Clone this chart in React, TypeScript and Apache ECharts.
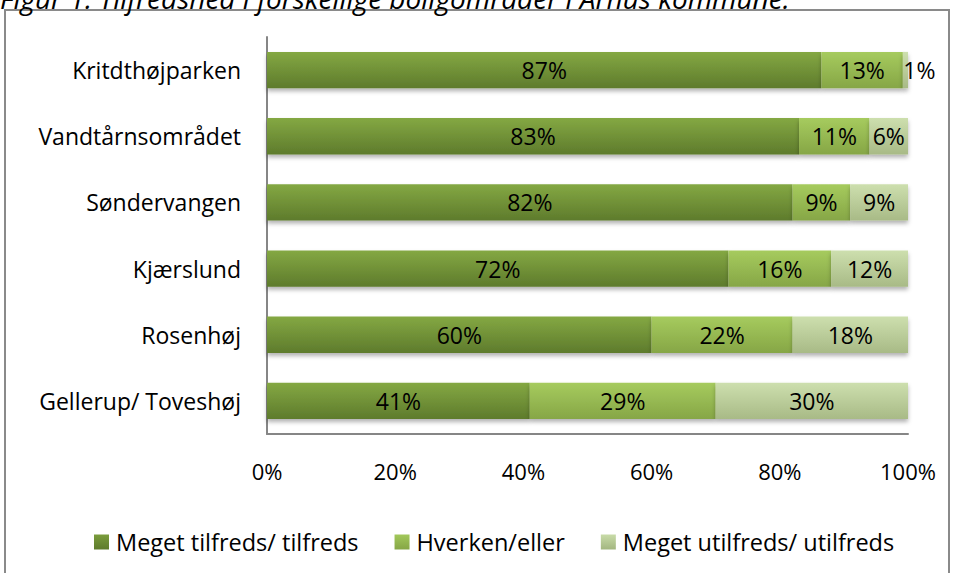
import React, { useEffect, useRef } from "react";
import * as echarts from "echarts";

const categories = ["Kritdthøjparken", "Vandtårnsområdet", "Søndervangen", "Kjærslund", "Rosenhøj", "Gellerup/ Toveshøj"];
const seriesNames = ["Meget tilfreds/ tilfreds", "Hverken/eller", "Meget utilfreds/ utilfreds"];
const satisfied = [86.5, 83, 82, 72, 60, 41];
const neither = [12.7, 11, 9, 16, 22, 29];
const dissatisfied = [0.8, 6, 9, 12, 18, 30];
const xTicks = [0, 20, 40, 60, 80, 100];
const titleText = "Figur 1: Tilfredshed i forskellige boligområder i Århus kommune.";

const FONT = "'Open Sans', 'Noto Sans', sans-serif";

function grad(top: string, bottom: string) {
  return new echarts.graphic.LinearGradient(0, 0, 0, 1, [
    { offset: 0, color: top },
    { offset: 1, color: bottom },
  ]);
}

export default function App() {
  const ref = useRef<HTMLDivElement>(null);
  useEffect(() => {
    if (!ref.current) return;
    const chart = echarts.init(ref.current, null, { renderer: "svg" });
    const colors = [
      grad("#84a843", "#5e7b2c"),
      grad("#a6cb5e", "#86a646"),
      grad("#cddfae", "#a8ba86"),
    ];
    const legendColors = [
      grad("#7a9c3c", "#5e7b2c"),
      grad("#a2c85a", "#86a646"),
      grad("#c8dba8", "#a3b680"),
    ];
    const rev = (a: number[]) => a.slice().reverse();
    const cats = rev(categories);
    const dataSets = [rev(satisfied), rev(neither), rev(dissatisfied)];
    const mkSeries = (i: number) => ({
      name: seriesNames[i],
      type: "bar",
      stack: "total",
      barCategoryGap: "45%",
      itemStyle: {
        color: colors[i],
        shadowBlur: 4,
        shadowOffsetY: 3,
        shadowColor: "rgba(0,0,0,0.3)",
      },
      label: {
        show: true,
        position: "inside",
        fontFamily: FONT,
        fontSize: 23,
        color: "#000",
        formatter: (p: any) => Math.round(p.value) + "%",
      },
      data: dataSets[i].map((v, j) =>
        i === 2 && j === cats.length - 1
          ? { value: v, label: { offset: [14, 0] } }
          : v
      ),
    });
    chart.setOption({
      animation: false,
      grid: { left: 267, right: 45, top: 37, bottom: 139, containLabel: false },
      legend: {
        bottom: 14,
        left: 89,
        itemWidth: 15,
        itemHeight: 15,
        itemGap: 36,
        icon: "rect",
        textStyle: { fontFamily: FONT, fontSize: 23.5, color: "#000", padding: [0, 0, 0, 2] },
        data: seriesNames.map((n, i) => ({ name: n, itemStyle: { color: legendColors[i] } })),
      },
      xAxis: {
        type: "value",
        min: 0,
        max: 100,
        interval: 20,
        axisLine: { show: true, lineStyle: { color: "#868686", width: 2 } },
        axisTick: { show: false },
        splitLine: { show: false },
        axisLabel: {
          margin: 26,
          fontFamily: FONT,
          fontSize: 22,
          color: "#000",
          formatter: (v: number) => (xTicks.includes(v) ? v + "%" : ""),
        },
      },
      yAxis: {
        type: "category",
        data: cats,
        axisLine: { show: true, lineStyle: { color: "#868686", width: 2 } },
        axisTick: { show: false },
        axisLabel: { margin: 26, fontFamily: FONT, fontSize: 23, color: "#000" },
      },
      graphic: [
        {
          type: "rect",
          shape: { x: 5, y: 10, width: 944, height: 600 },
          style: { fill: "none", stroke: "#8a8a8a", lineWidth: 2 },
          z: -1,
        },
        {
          type: "text",
          x: 0,
          y: 12,
          style: {
            text: titleText,
            fontFamily: FONT,
            fontSize: 28,
            fontStyle: "italic",
            fill: "#000",
            textVerticalAlign: "bottom",
          },
        },
      ],
      series: [mkSeries(0), mkSeries(1), mkSeries(2)],
    });
    return () => chart.dispose();
  }, []);
  return (
    <div
      ref={ref}
      style={{ position: "absolute", left: 0, top: 0, width: 953, height: 573 }}
    />
  );
}
